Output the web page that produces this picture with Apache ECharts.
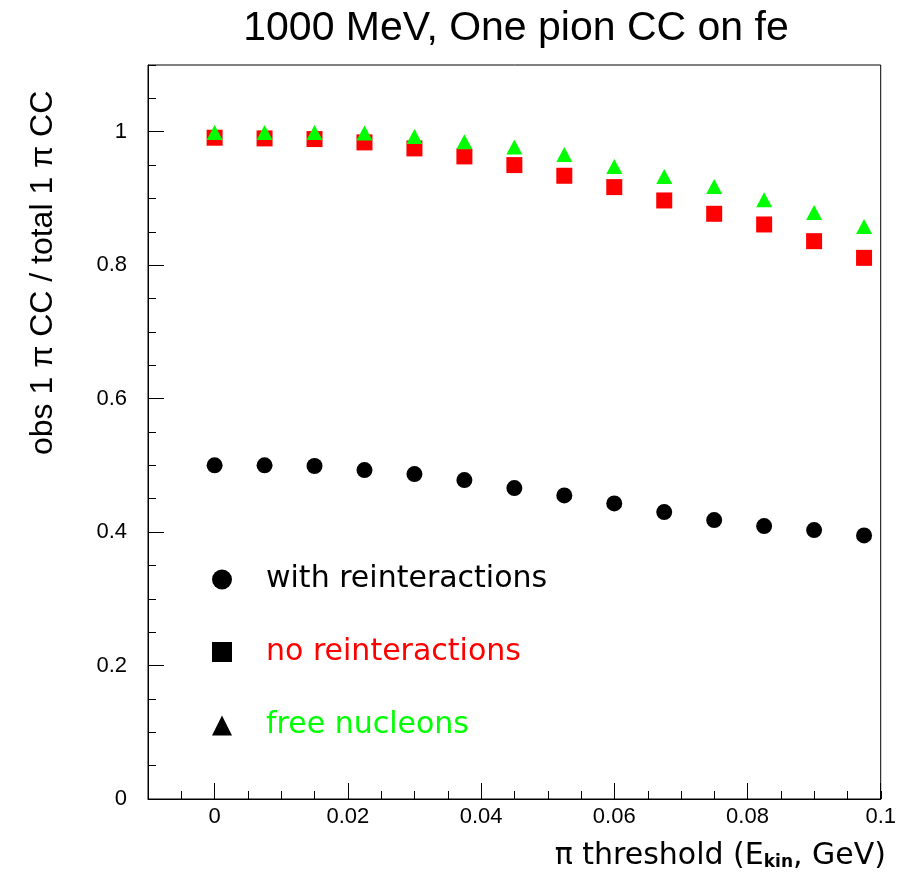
<!DOCTYPE html>
<html>
<head>
<meta charset="utf-8">
<script src="https://cdn.jsdelivr.net/npm/echarts@6/dist/echarts.min.js"></script>
<style>
  html, body { margin: 0; padding: 0; background: #fff; }
  #chart { width: 899px; height: 881px; }
</style>
</head>
<body>
<div id="chart"></div>
<script>
// Pion kinetic-energy threshold (GeV)
const thresholds = [0, 0.0075, 0.015, 0.0225, 0.03, 0.0375, 0.045, 0.0525, 0.06, 0.0675, 0.075, 0.0825, 0.09, 0.0975];
// Fraction of single-pion CC events observed above threshold
const withReinteractions = [0.500, 0.500, 0.499, 0.493, 0.487, 0.478, 0.466, 0.455, 0.443, 0.430, 0.418, 0.409, 0.403, 0.395];
const noReinteractions = [0.991, 0.990, 0.989, 0.984, 0.975, 0.963, 0.950, 0.934, 0.917, 0.897, 0.877, 0.861, 0.836, 0.811];
const freeNucleons = [0.999, 0.999, 0.999, 0.998, 0.993, 0.985, 0.977, 0.966, 0.948, 0.933, 0.918, 0.898, 0.879, 0.858];

const seriesNames = ['with reinteractions', 'no reinteractions', 'free nucleons'];
const seriesColors = ['#000000', '#ff0000', '#00ff00'];

const toPoints = vals => thresholds.map((x, i) => [x, vals[i]]);

const GRID = { left: 148, right: 18, top: 65, bottom: 82 };
const AXIS_FONT = 'Liberation Sans, Arial, sans-serif';
const TEXT_FONT = 'DejaVu Sans, sans-serif';

const chart = echarts.init(document.getElementById('chart'), null, { renderer: 'canvas' });

function legendFor(i, markerIcon, centerY) {
  return {
    selectedMode: false,
    orient: 'vertical',
    left: 212,
    top: centerY - 15,
    padding: 0,
    itemWidth: 20,
    itemHeight: 20,
    itemStyle: { opacity: 1 },
    data: [{
      name: seriesNames[i],
      icon: markerIcon,
      itemStyle: { color: '#000', opacity: 1 },
      textStyle: { color: seriesColors[i] }
    }],
    textStyle: {
      fontFamily: TEXT_FONT,
      fontSize: 30,
      lineHeight: 30,
      padding: [0, 0, 0, 29]
    }
  };
}

const minorTick = { inside: true, length: 8, lineStyle: { color: '#000', width: 1 } };
const majorTick = { inside: true, length: 16, lineStyle: { color: '#000', width: 1 } };

const option = {
  animation: false,
  backgroundColor: '#fff',
  grid: [
    Object.assign({ show: true, borderColor: '#000', borderWidth: 1, backgroundColor: 'transparent' }, GRID),
    Object.assign({ show: false }, GRID)
  ],
  xAxis: [
    {
      type: 'value', gridIndex: 0, min: -0.01, max: 0.1, splitNumber: 5,
      axisLine: { onZero: false, lineStyle: { color: '#000', width: 1 } },
      axisTick: majorTick,
      axisLabel: {
        margin: 7, fontFamily: AXIS_FONT, fontSize: 22, color: '#000',
        showMinLabel: false,
        formatter: v => (v < 0 ? '' : String(+v.toFixed(3)))
      },
      splitLine: { show: false }
    },
    {
      // minor ticks every 0.005
      type: 'value', gridIndex: 1, min: -0.01, max: 0.1, interval: 0.005,
      axisLine: { show: false, onZero: false },
      axisTick: minorTick,
      axisLabel: { show: false },
      splitLine: { show: false }
    }
  ],
  yAxis: [
    {
      type: 'value', gridIndex: 0, min: 0, max: 1.1, interval: 0.2,
      axisLine: { show: true, onZero: false, lineStyle: { color: '#000', width: 1 } },
      axisTick: Object.assign({ show: true }, majorTick),
      axisLabel: {
        margin: 21, fontFamily: AXIS_FONT, fontSize: 22, color: '#000',
        showMaxLabel: false,
        formatter: v => (v > 1.05 ? '' : String(+v.toFixed(2)))
      },
      splitLine: { show: false }
    },
    {
      // minor ticks every 0.05
      type: 'value', gridIndex: 1, min: 0, max: 1.1, interval: 0.05,
      axisLine: { show: false, onZero: false },
      axisTick: Object.assign({ show: true }, minorTick),
      axisLabel: { show: false },
      splitLine: { show: false }
    }
  ],
  legend: [
    legendFor(0, 'circle', 579.5),
    legendFor(1, 'rect', 652),
    legendFor(2, 'triangle', 725.5)
  ],
  graphic: [
    {
      type: 'text', x: 516, y: 29,
      style: {
        text: '1000 MeV, One pion CC on fe',
        fontFamily: AXIS_FONT, fontSize: 41, fill: '#000',
        align: 'center', verticalAlign: 'middle'
      }
    },
    {
      type: 'text', x: 59, y: 455, rotation: Math.PI / 2,
      style: {
        text: 'obs 1 \u03c0 CC / total 1 \u03c0 CC',
        fontFamily: AXIS_FONT, fontSize: 32, fill: '#000',
        align: 'left', verticalAlign: 'bottom'
      }
    },
    {
      type: 'text', x: 886, y: 855,
      style: {
        text: '{m|\u03c0 threshold (E}{s|kin}{m|, GeV)}',
        align: 'right', verticalAlign: 'middle',
        rich: {
          m: { fontFamily: TEXT_FONT, fontSize: 30, fill: '#000', lineHeight: 32, verticalAlign: 'bottom' },
          s: { fontFamily: TEXT_FONT, fontSize: 17, fontWeight: 'bold', fill: '#000', lineHeight: 17, verticalAlign: 'bottom' }
        }
      }
    }
  ],
  series: [
    {
      name: seriesNames[0], type: 'scatter', xAxisIndex: 0, yAxisIndex: 0,
      symbol: 'circle', symbolSize: 16,
      itemStyle: { color: seriesColors[0], opacity: 1 },
      data: toPoints(withReinteractions)
    },
    {
      name: seriesNames[1], type: 'scatter', xAxisIndex: 0, yAxisIndex: 0,
      symbol: 'rect', symbolSize: 16,
      itemStyle: { color: seriesColors[1], opacity: 1 },
      data: toPoints(noReinteractions)
    },
    {
      name: seriesNames[2], type: 'scatter', xAxisIndex: 0, yAxisIndex: 0,
      symbol: 'triangle', symbolSize: [16, 15],
      itemStyle: { color: seriesColors[2], opacity: 1 },
      data: toPoints(freeNucleons)
    }
  ]
};

chart.setOption(option);
</script>
</body>
</html>
